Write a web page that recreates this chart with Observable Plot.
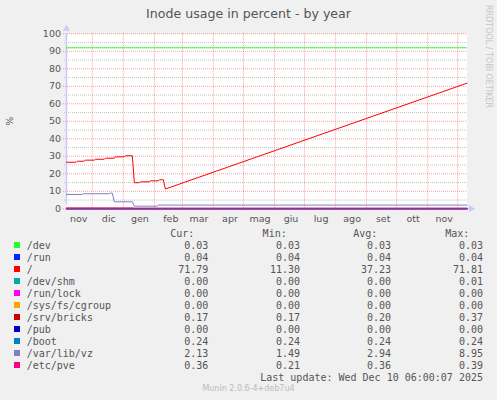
<!DOCTYPE html>
<html>
<head>
<meta charset="utf-8">
<script src="https://cdn.jsdelivr.net/npm/d3@7"></script>
<script src="https://cdn.jsdelivr.net/npm/@observablehq/plot@0.6"></script>
<style>
  html, body { margin: 0; padding: 0; background: #f0f0f0; }
  #wrap { position: relative; width: 497px; height: 400px; overflow: hidden; background: #f0f0f0; }
  #title { position: absolute; left: 0; top: 6.4px; width: 497px; text-align: center;
           font: 12.6px "DejaVu Sans"; line-height: 15px; color: #555; }
  #chart { position: absolute; left: 0; top: 20px; }
  #rrd { position: absolute; left: 488px; top: 5px; transform-origin: 0 0; transform: rotate(90deg) translate(0, -4.5px);
         font: 8px "DejaVu Sans"; line-height: 9px; color: #c4c4c4; white-space: nowrap; }
  .t { position: absolute; font: 10px "DejaVu Sans Mono"; line-height: 12px; height: 12px; color: #555; white-space: pre; }
  .sw { position: absolute; width: 6px; height: 6px; left: 14px; }
  #munin { position: absolute; left: 0; width: 497px; text-align: center; font: 8px "DejaVu Sans";
           line-height: 10px; color: #bbb; }
</style>
</head>
<body>
<div id="wrap">
  <div id="title"></div>
  <div id="chart"></div>
  <div id="rrd"></div>
  <div id="legend"></div>
  <div id="munin"></div>
</div>
<script>
// ---- texts ----
const titleText = "Inode usage in percent - by year";
const yLabel = "%";
const sideText = "RRDTOOL / TOBI OETIKER";
const lastUpdate = "Last update: Wed Dec 10 06:00:07 2025";
const versionText = "Munin 2.0.6-4+deb7u4";
const legendHeaders = ["Cur:", "Min:", "Avg:", "Max:"];

// ---- series ----
const seriesNames  = ["/dev", "/run", "/", "/dev/shm", "/run/lock", "/sys/fs/cgroup", "/srv/bricks", "/pub", "/boot", "/var/lib/vz", "/etc/pve"];
const seriesColors = ["#22ff22", "#0022ff", "#ff0000", "#00aaaa", "#ff00ff", "#ffa500", "#cc0000", "#0000cc", "#0080c0", "#8080c0", "#ff0080"];
const curValues = [0.03, 0.04, 71.79, 0.00, 0.00, 0.00, 0.17, 0.00, 0.24, 2.13, 0.36];
const minValues = [0.03, 0.04, 11.30, 0.00, 0.00, 0.00, 0.17, 0.00, 0.24, 1.49, 0.21];
const avgValues = [0.03, 0.04, 37.23, 0.00, 0.00, 0.00, 0.20, 0.00, 0.24, 2.94, 0.36];
const maxValues = [0.03, 0.04, 71.81, 0.01, 0.00, 0.00, 0.37, 0.00, 0.24, 8.95, 0.39];

// time window (400 days ending at last update)
const periodStart = "2024-11-05T06:00:00Z";
const periodEnd   = "2025-12-10T06:00:00Z";

// "/" series
const rootDates = ["2024-11-05T06:00:00Z", "2024-11-15", "2024-11-16", "2024-11-23", "2024-11-24", "2024-12-03", "2024-12-04",
  "2024-12-13", "2024-12-14", "2024-12-23", "2024-12-24", "2025-01-02", "2025-01-03", "2025-01-10", "2025-01-12",
  "2025-01-17", "2025-01-18", "2025-01-27", "2025-01-28", "2025-02-05", "2025-02-06", "2025-02-10", "2025-02-12",
  "2025-12-10T06:00:00Z"];
const rootValues = [26.6, 26.6, 27.2, 27.2, 27.8, 27.8, 28.3, 28.3, 28.9, 28.9, 29.7, 29.7, 30.3, 30.3, 14.9,
  14.9, 15.4, 15.4, 16.0, 16.0, 16.6, 16.6, 11.3, 71.79];

// "/var/lib/vz" series
const vzDates = ["2024-11-05T06:00:00Z", "2024-11-21", "2024-11-22", "2024-12-18", "2024-12-19", "2024-12-21", "2024-12-23",
  "2025-01-10", "2025-01-12", "2025-02-04", "2025-02-05", "2025-12-10T06:00:00Z"];
const vzValues = [8.2, 8.2, 8.6, 8.6, 8.95, 8.95, 4.0, 4.0, 1.49, 1.49, 2.13, 2.13];

// "/srv/bricks" series
const bricksDates = ["2024-11-05T06:00:00Z", "2025-01-10", "2025-01-12", "2025-12-10T06:00:00Z"];
const bricksValues = [0.37, 0.37, 0.17, 0.17];

// nearly flat series
const flatNames  = ["/dev", "/run", "/dev/shm", "/run/lock", "/sys/fs/cgroup", "/pub", "/boot", "/etc/pve"];
const flatLevels = [0.03, 0.04, 0.00, 0.00, 0.00, 0.00, 0.24, 0.36];

// horizontal threshold line
const thresholdLevel = 92;

// axes
const yTicks = [0, 10, 20, 30, 40, 50, 60, 70, 80, 90, 100];
const yMinorTicks = [5, 15, 25, 35, 45, 55, 65, 75, 85, 95];
const monthLabels = ["nov", "dic", "gen", "feb", "mar", "apr", "mag", "giu", "lug", "ago", "set", "ott", "nov"];

// ---- build ----
const xStart = new Date(periodStart), xEnd = new Date(periodEnd);
const rows = [];
for (const name of seriesNames) {
  let ds, vs;
  if (name === "/") { ds = rootDates; vs = rootValues; }
  else if (name === "/var/lib/vz") { ds = vzDates; vs = vzValues; }
  else if (name === "/srv/bricks") { ds = bricksDates; vs = bricksValues; }
  else { const k = flatNames.indexOf(name); ds = [periodStart, periodEnd]; vs = [flatLevels[k], flatLevels[k]]; }
  ds.forEach((d, i) => rows.push({name, date: new Date(d), value: vs[i]}));
}

const monthStarts = d3.utcMonth.range(d3.utcMonth.ceil(xStart), xEnd);
const labelDates = d3.utcMonth.range(d3.utcMonth.floor(xStart), xEnd)
  .map(d => new Date(+d + 16.5 * 864e5))
  .slice(0, monthLabels.length);
const labelMap = new Map(labelDates.map((d, i) => [+d, monthLabels[i]]));

const axisColor = "#c8c8ff";
const chart = Plot.plot({
  width: 497,
  height: 205,
  marginLeft: 66,
  marginRight: 30.5,
  marginTop: 13.3,
  marginBottom: 16.7,
  style: {background: "transparent", fontFamily: "DejaVu Sans", fontSize: "9.5px", color: "#555", overflow: "visible"},
  x: {type: "utc", domain: [xStart, xEnd]},
  y: {domain: [0, 100]},
  color: {domain: seriesNames, range: seriesColors},
  marks: [
    Plot.frame({fill: "white", stroke: "none"}),
    Plot.ruleY(yMinorTicks, {stroke: "#c4c4c4", strokeDasharray: "1,1", insetLeft: -2}),
    Plot.ruleY(yTicks, {stroke: "#ff0000", strokeOpacity: 0.38, strokeDasharray: "1,1", insetLeft: -3}),
    Plot.ruleX(monthStarts, {stroke: "#ff0000", strokeOpacity: 0.38, strokeDasharray: "1,1", insetBottom: -3}),
    Plot.ruleX([xStart], {y1: 0, y2: 100, stroke: axisColor, strokeWidth: 1.5, insetTop: -4}),
    Plot.ruleY([0], {stroke: axisColor, strokeWidth: 1, insetRight: -3}),
    Plot.dot([{x: xStart, y: 100}], {x: "x", y: "y", symbol: "triangle", r: 2.6, fill: axisColor, stroke: "none", dy: -5}),
    Plot.dot([{x: xEnd, y: 0}], {x: "x", y: "y", symbol: "triangle", r: 2.6, fill: axisColor, stroke: "none", rotate: 90, dx: 4}),
    Plot.ruleY([thresholdLevel], {stroke: seriesColors[0], strokeWidth: 1}),
    Plot.line(rows, {x: "date", y: "value", z: "name", stroke: "name", strokeWidth: 1, curve: "linear"}),
    Plot.axisY({ticks: yTicks, tickSize: 0, tickPadding: 5.5, label: yLabel, labelAnchor: "center", labelArrow: "none", labelOffset: 60}),
    Plot.axisX({ticks: labelDates, tickSize: 0, tickPadding: 6, tickFormat: d => labelMap.get(+d), label: null})
  ]
});
document.getElementById("chart").appendChild(chart);

document.getElementById("title").textContent = titleText;
document.getElementById("rrd").textContent = sideText;

// ---- legend ----
const legend = document.getElementById("legend");
const W = 497;
function addText(txt, top, opts) {
  const el = document.createElement("div");
  el.className = "t";
  el.textContent = txt;
  el.style.top = top + "px";
  if (opts.right !== undefined) { el.style.right = (W - opts.right) + "px"; el.style.textAlign = "right"; }
  else el.style.left = opts.left + "px";
  legend.appendChild(el);
}
const headerRight = [194.3, 286.7, 377.3, 469.3];
const valueRight = [208.3, 300, 391, 483];
const headerTop = 228;
legendHeaders.forEach((h, j) => addText(h, headerTop, {right: headerRight[j]}));
const rowTop0 = 239.7, rowStep = 12;
seriesNames.forEach((name, i) => {
  const top = rowTop0 + i * rowStep;
  const sw = document.createElement("div");
  sw.className = "sw";
  sw.style.top = (top + 2.6) + "px";
  sw.style.background = seriesColors[i];
  legend.appendChild(sw);
  addText(name, top, {left: 26.7});
  [curValues, minValues, avgValues, maxValues].forEach((arr, j) =>
    addText(arr[i].toFixed(2), top, {right: valueRight[j]}));
});
addText(lastUpdate, rowTop0 + seriesNames.length * rowStep, {right: 483});
const mu = document.getElementById("munin");
mu.textContent = versionText;
mu.style.top = "384.3px";
</script>
</body>
</html>
